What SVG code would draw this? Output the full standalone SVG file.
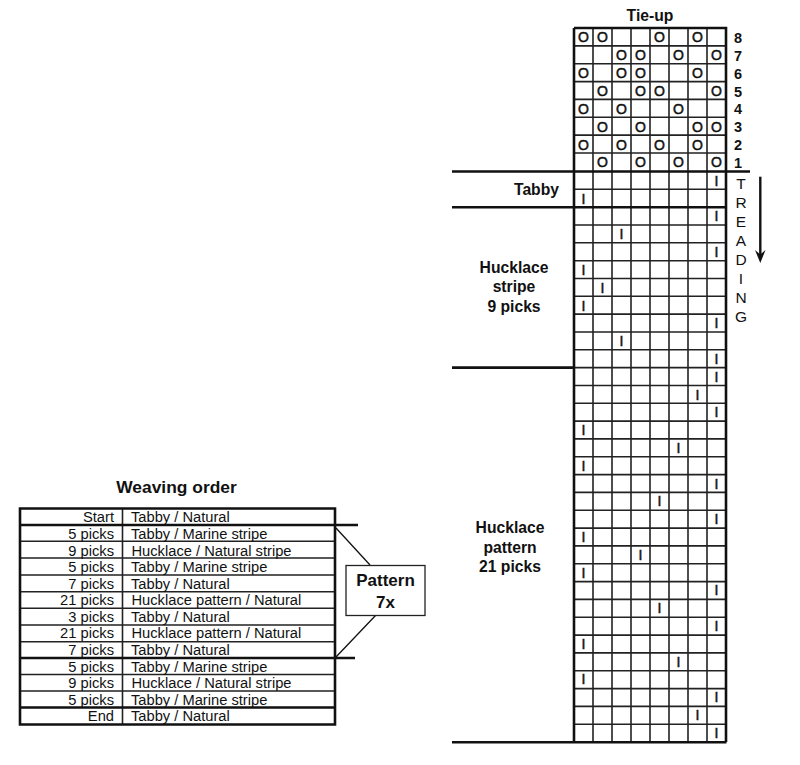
<svg xmlns="http://www.w3.org/2000/svg" width="800" height="765" viewBox="0 0 800 765">
<style>
text{font-family:"Liberation Sans",Arial,sans-serif;fill:#111}
.b{font-weight:bold;font-size:15.7px;text-anchor:middle}
.w{font-weight:bold;font-size:17.400px;text-anchor:middle}
.p{font-weight:bold;font-size:17px;text-anchor:middle}
.t{font-size:14.700px}
.r{font-size:14.700px;text-anchor:end}
.m{font-size:14px;text-anchor:middle;stroke:#111;stroke-width:.5}
.n{font-size:14.500px;font-weight:bold;text-anchor:middle}
.l{font-size:15.500px;text-anchor:middle}
.g{fill:none;stroke:#222;stroke-width:1.6}
.h{fill:none;stroke:#111;stroke-width:2.6}
.k{fill:none;stroke:#111;stroke-width:1.300}
</style>
<rect width="800" height="765" fill="#fff"/>
<g id="draft-grid">
<path class="g" d="M593 28V742M612 28V742M631 28V742M650 28V742M669 28V742M688 28V742M707 28V742"/>
<path class="g" d="M574 45.9H726M574 63.7H726M574 81.6H726M574 99.4H726M574 117.3H726M574 135.1H726M574 153H726"/>
<path class="g" d="M574 189.3H726M574 225H726M574 242.8H726M574 260.7H726M574 278.5H726M574 296.3H726M574 314.1H726M574 332H726M574 349.8H726M574 367.6H726M574 385.5H726M574 403.3H726M574 421.1H726M574 438.9H726M574 456.8H726M574 474.6H726M574 492.4H726M574 510.3H726M574 528.1H726M574 545.9H726M574 563.8H726M574 581.6H726M574 599.4H726M574 617.2H726M574 635.1H726M574 652.9H726M574 670.7H726M574 688.6H726M574 706.4H726M574 724.2H726"/>
<path class="h" d="M574 28H726V742M574 28V742M452 171.5H750M452 207.2H726M452 367.6H574M452 742.3H726.500"/>
</g>
<g id="tie-up">
<text class="b" x="650" y="21">Tie-up</text>
<g class="tie-marks">
<text class="m" x="583.500" y="42">O</text><text class="m" x="602.500" y="42">O</text><text class="m" x="659.500" y="42">O</text><text class="m" x="697.500" y="42">O</text>
<text class="m" x="621.500" y="60">O</text><text class="m" x="640.500" y="60">O</text><text class="m" x="678.500" y="60">O</text><text class="m" x="716.500" y="60">O</text>
<text class="m" x="583.500" y="78">O</text><text class="m" x="621.500" y="78">O</text><text class="m" x="640.500" y="78">O</text><text class="m" x="697.500" y="78">O</text>
<text class="m" x="602.500" y="96">O</text><text class="m" x="640.500" y="96">O</text><text class="m" x="659.500" y="96">O</text><text class="m" x="716.500" y="96">O</text>
<text class="m" x="583.500" y="113.500">O</text><text class="m" x="621.500" y="113.500">O</text><text class="m" x="678.500" y="113.500">O</text>
<text class="m" x="602.500" y="131.500">O</text><text class="m" x="640.500" y="131.500">O</text><text class="m" x="697.500" y="131.500">O</text><text class="m" x="716.500" y="131.500">O</text>
<text class="m" x="583.500" y="149.500">O</text><text class="m" x="621.500" y="149.500">O</text><text class="m" x="659.500" y="149.500">O</text><text class="m" x="697.500" y="149.500">O</text>
<text class="m" x="602.500" y="167">O</text><text class="m" x="640.500" y="167">O</text><text class="m" x="678.500" y="167">O</text><text class="m" x="716.500" y="167">O</text>
</g>
<g class="shaft-numbers">
<text class="n" x="738" y="43">8</text><text class="n" x="738" y="61">7</text><text class="n" x="738" y="78.500">6</text><text class="n" x="738" y="96.500">5</text><text class="n" x="738" y="114">4</text><text class="n" x="738" y="132">3</text><text class="n" x="738" y="150">2</text><text class="n" x="738" y="167.500">1</text>
</g>
</g>
<g id="treadling">
<text class="m" x="716.500" y="185.500">I</text><text class="m" x="583.500" y="203.500">I</text><text class="m" x="716.500" y="221">I</text><text class="m" x="621.500" y="239">I</text><text class="m" x="716.500" y="257">I</text><text class="m" x="583.500" y="274.500">I</text><text class="m" x="602.500" y="292.500">I</text><text class="m" x="583.500" y="310.500">I</text><text class="m" x="716.500" y="328">I</text><text class="m" x="621.500" y="346">I</text><text class="m" x="716.500" y="364">I</text><text class="m" x="716.500" y="381.500">I</text><text class="m" x="697.500" y="399.500">I</text><text class="m" x="716.500" y="417">I</text><text class="m" x="583.500" y="435">I</text><text class="m" x="678.500" y="453">I</text><text class="m" x="583.500" y="470.500">I</text><text class="m" x="716.500" y="488.500">I</text><text class="m" x="659.500" y="506">I</text><text class="m" x="716.500" y="524">I</text><text class="m" x="583.500" y="542">I</text><text class="m" x="640.500" y="559.500">I</text><text class="m" x="583.500" y="577.500">I</text><text class="m" x="716.500" y="595">I</text><text class="m" x="659.500" y="613">I</text><text class="m" x="716.500" y="631">I</text><text class="m" x="583.500" y="648.500">I</text><text class="m" x="678.500" y="666.500">I</text><text class="m" x="583.500" y="684">I</text><text class="m" x="716.500" y="702">I</text><text class="m" x="697.500" y="720">I</text><text class="m" x="716.500" y="737.500">I</text>
</g>
<g id="section-labels">
<text class="b" x="536.500" y="195">Tabby</text>
<text class="b" x="514" y="273">Hucklace</text><text class="b" x="514" y="292">stripe</text><text class="b" x="514" y="311.500">9 picks</text>
<text class="b" x="510" y="533">Hucklace</text><text class="b" x="510" y="553">pattern</text><text class="b" x="510" y="572">21 picks</text>
</g>
<g id="treading-label">
<text class="l" x="741" y="188.500">T</text><text class="l" x="741" y="207.500">R</text><text class="l" x="741" y="227">E</text><text class="l" x="741" y="245.500">A</text><text class="l" x="741" y="265">D</text><text class="l" x="741" y="283.500">I</text><text class="l" x="741" y="302.500">N</text><text class="l" x="741" y="321.500">G</text>
</g>
<g id="connectors">
<path d="M760.300 176.700V255" fill="none" stroke="#111" stroke-width="2.400"/>
<path d="M760.300 263L755 250L760.300 254.500L765.500 250Z" fill="#111"/>
<path class="k" d="M336 528L370 565M376 615L336 657"/>
</g>
<g id="weaving-order">
<text class="w" x="176.500" y="493">Weaving order</text>
<path class="g" d="M20 541.300H335M20 558H335M20 575H335M20 591.700H335M20 608.300H335M20 625H335M20 641.700H335M20 674.500H335M20 691H335M122.500 508V724"/>
<path class="h" d="M20 508.500H335V724.500H20ZM20 525H358M20 658H355M20 707.500H335"/>
<text class="r" x="114" y="522">Start</text><text class="t" x="131" y="522">Tabby / Natural</text>
<text class="r" x="114" y="539">5 picks</text><text class="t" x="131" y="539">Tabby / Marine stripe</text>
<text class="r" x="114" y="555.500">9 picks</text><text class="t" x="131.500" y="555.500">Hucklace / Natural stripe</text>
<text class="r" x="114" y="572">5 picks</text><text class="t" x="131" y="572">Tabby / Marine stripe</text>
<text class="r" x="114" y="588.500">7 picks</text><text class="t" x="131" y="588.500">Tabby / Natural</text>
<text class="r" x="114" y="605">21 picks</text><text class="t" x="131.500" y="605">Hucklace pattern / Natural</text>
<text class="r" x="114" y="621.500">3 picks</text><text class="t" x="131" y="621.500">Tabby / Natural</text>
<text class="r" x="114" y="638">21 picks</text><text class="t" x="131.500" y="638">Hucklace pattern / Natural</text>
<text class="r" x="114" y="654.500">7 picks</text><text class="t" x="131" y="654.500">Tabby / Natural</text>
<text class="r" x="114" y="671.500">5 picks</text><text class="t" x="131" y="671.500">Tabby / Marine stripe</text>
<text class="r" x="114" y="688">9 picks</text><text class="t" x="131.500" y="688">Hucklace / Natural stripe</text>
<text class="r" x="114" y="704.500">5 picks</text><text class="t" x="131" y="704.500">Tabby / Marine stripe</text>
<text class="r" x="114" y="721">End</text><text class="t" x="131" y="721">Tabby / Natural</text>
</g>
<g id="pattern-box">
<rect x="346" y="565.500" width="79" height="50" fill="#fff" stroke="#222" stroke-width="1.300"/>
<text class="p" x="385.500" y="586">Pattern</text>
<text class="p" x="385.500" y="608">7x</text>
</g>
</svg>
